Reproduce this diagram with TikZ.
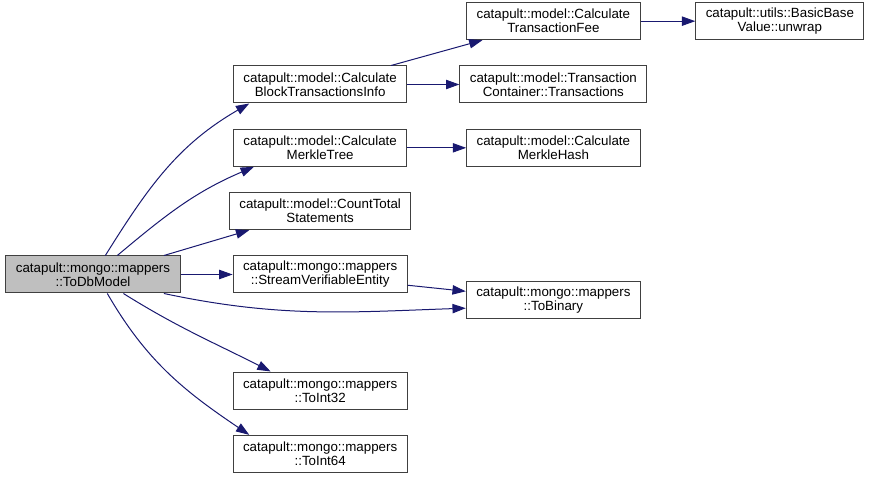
\documentclass[tikz,border=0pt]{standalone}
\usepackage{fontspec}
\setmainfont{Liberation Sans}
\usepackage{tikz}
\usetikzlibrary{positioning,arrows.meta}
\usepackage{xcolor}
\definecolor{callblue}{RGB}{25,25,112}
\definecolor{rootgray}{RGB}{191,191,191}
\definecolor{framegray}{RGB}{64,64,64}

\begin{document}
\begin{tikzpicture}[
    x=0.75pt, y=-0.75pt,
    node distance=19pt and 39pt,
    fnbox/.style={rectangle, draw=framegray, fill=white, minimum height=27.75pt,
                  inner xsep=7.5pt, inner ysep=2pt, align=center,
                  font=\fontsize{10}{10.5}\selectfont, line width=0.75pt},
    call/.style={draw=callblue, line width=0.75pt,
                 -{Triangle[length=10pt,width=7pt]}}
]
\useasboundingbox (0,0) rectangle (871,477);

\node[fnbox, fill=rootgray] (todb) at (93,274.5) {catapult::mongo::mappers\\::ToDbModel};
\node[fnbox, right=of todb] (stream) {catapult::mongo::mappers\\::StreamVerifiableEntity};
\node[fnbox, above=of stream] (count) {catapult::model::CountTotal\\Statements};
\node[fnbox, above=of count] (mtree) {catapult::model::Calculate\\MerkleTree};
\node[fnbox, above=of mtree] (btinfo) {catapult::model::Calculate\\BlockTransactionsInfo};
\node[fnbox, below=58.5pt of stream] (int32) {catapult::mongo::mappers\\::ToInt32};
\node[fnbox, below=of int32] (int64) {catapult::mongo::mappers\\::ToInt64};

\node[fnbox, right=of btinfo] (txcont) {catapult::model::Transaction\\Container::Transactions};
\node[fnbox, above=of txcont] (txfee) {catapult::model::Calculate\\TransactionFee};
\node[fnbox, below=of txcont] (mhash) {catapult::model::Calculate\\MerkleHash};
\node[fnbox, below=86pt of mhash] (tobin) {catapult::mongo::mappers\\::ToBinary};
\node[fnbox, right=41pt of txfee] (unwrap) {catapult::utils::BasicBase\\Value::unwrap};

% calls out of ToDbModel
\draw[call] (todb.57) to[out=58, in=210] (btinfo.195);
\draw[call] (todb.38) to[out=40, in=203] (mtree.196);
\draw[call] (todb.15) -- (count.195);
\draw[call] (todb) -- (stream);
\draw[call] (todb.-15) to[out=-12, in=182] (tobin.185);
\draw[call] (todb.-32) to[out=-32, in=153] (int32.159);
\draw[call] (todb.-53) to[out=-60, in=146] (int64.165);

% further calls
\draw[call] (btinfo.15) -- (txfee.195);
\draw[call] (btinfo) -- (txcont);
\draw[call] (txfee) -- (unwrap);
\draw[call] (mtree) -- (mhash);
\draw[call] (stream.-7) -- (tobin.174);

\end{tikzpicture}
\end{document}
